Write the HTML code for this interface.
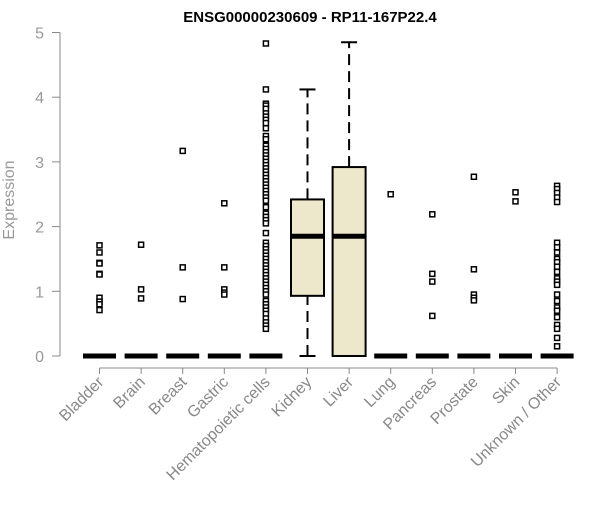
<!DOCTYPE html>
<html><head><meta charset="utf-8"><style>body{margin:0;background:#fff}svg{font-family:"Liberation Sans",Arial,sans-serif}</style></head>
<body>
<svg id="c" width="600" height="500">
<text x="310" y="22" text-anchor="middle" font-weight="bold" font-size="15">ENSG00000230609 - RP11-167P22.4</text>
<text transform="translate(14,200) rotate(-90)" text-anchor="middle" font-size="16" fill="#999">Expression</text>
<g id="g"></g>
</svg>
<script>
const categories=["Bladder","Brain","Breast","Gastric","Hematopoietic cells","Kidney","Liver","Lung","Pancreas","Prostate","Skin","Unknown / Other"];
const q1=[0,0,0,0,0,0.93,0,0,0,0,0,0];
const med=[0,0,0,0,0,1.85,1.85,0,0,0,0,0];
const q3=[0,0,0,0,0,2.42,2.92,0,0,0,0,0];
const whiskLo=[0,0,0,0,0,0,0,0,0,0,0,0];
const whiskHi=[0,0,0,0,0,4.12,4.85,0,0,0,0,0];
const outliers=[
[1.71,1.6,1.44,1.43,1.27,1.26,0.9,0.84,0.8,0.71],
[1.72,1.03,0.89],
[3.17,1.37,0.88],
[2.36,1.37,1.03,0.98,0.95],
[4.83,4.12,3.9,3.87,3.82,3.75,3.7,3.65,3.6,3.52,3.4,3.35,3.25,3.2,3.15,3.1,3.05,3.0,2.95,2.9,2.85,2.8,2.75,2.7,2.65,2.6,2.55,2.5,2.45,2.4,2.3,2.2,2.15,2.1,2.05,1.9,1.75,1.7,1.65,1.6,1.55,1.5,1.45,1.4,1.35,1.3,1.25,1.2,1.15,1.1,1.05,1.0,0.95,0.85,0.8,0.75,0.7,0.65,0.58,0.52,0.47,0.42],
[],[],
[2.5],
[2.19,1.27,1.15,0.62],
[2.77,1.34,0.95,0.9,0.86],
[2.53,2.39],
[2.63,2.58,2.52,2.45,2.38,1.75,1.68,1.6,1.5,1.45,1.38,1.3,1.2,1.15,1.1,0.95,0.85,0.75,0.7,0.6,0.48,0.42,0.28,0.15]];
const yTicks=[0,1,2,3,4,5];
const NS="http://www.w3.org/2000/svg",g=document.getElementById('g');
const X=i=>99.5+41.6*i, Y=v=>356-64.7*v;
function el(t,a,p){const e=document.createElementNS(NS,t);for(const k in a)e.setAttribute(k,a[k]);(p||g).appendChild(e);return e;}
let a=el('line',{x1:60,x2:60,y1:Y(5),y2:Y(0),stroke:'#888'});

yTicks.forEach(t=>{el('line',{x1:52,x2:60,y1:Y(t),y2:Y(t),stroke:'#888'});
const tx=el('text',{x:44,y:Y(t)+6,'text-anchor':'end','font-size':16,fill:'#999'});tx.textContent=t;
});
let xa=el('line',{x1:X(0),x2:X(11),y1:368,y2:368,stroke:'#888'});

categories.forEach((c,i)=>{const x=X(i);
el('line',{x1:x,x2:x,y1:368,y2:374,stroke:'#888'});
const t=el('text',{transform:`translate(${x+5},${383}) rotate(-45)`,'text-anchor':'end','font-size':16,fill:'#888'});t.textContent=c;

const bg=el('g',{});
const w=16.5;
if(whiskHi[i]>q3[i]){el('line',{x1:x,x2:x,y1:Y(q3[i]),y2:Y(whiskHi[i]),stroke:'#000','stroke-width':2,'stroke-dasharray':'11,6'},bg);
el('line',{x1:x-8,x2:x+8,y1:Y(whiskHi[i]),y2:Y(whiskHi[i]),stroke:'#000','stroke-width':2},bg);}
if(q1[i]>whiskLo[i]){el('line',{x1:x,x2:x,y1:Y(whiskLo[i]),y2:Y(q1[i]),stroke:'#000','stroke-width':2,'stroke-dasharray':'11,6'},bg);
el('line',{x1:x-8,x2:x+8,y1:Y(whiskLo[i]),y2:Y(whiskLo[i]),stroke:'#000','stroke-width':2},bg);}
if(q3[i]>q1[i])el('rect',{x:x-w,y:Y(q3[i]),width:2*w,height:Y(q1[i])-Y(q3[i]),fill:'#EDE8CC',stroke:'#000','stroke-width':2},bg);
el('line',{x1:x-w,x2:x+w,y1:Y(med[i]),y2:Y(med[i]),stroke:'#000','stroke-width':5},bg);
outliers[i].forEach(v=>{const p=el('rect',{x:x-2.5,y:Y(v)-2.5,width:5,height:5,fill:'#fff',stroke:'#000','stroke-width':1.5},bg);
});
});
</script>
</body></html>
